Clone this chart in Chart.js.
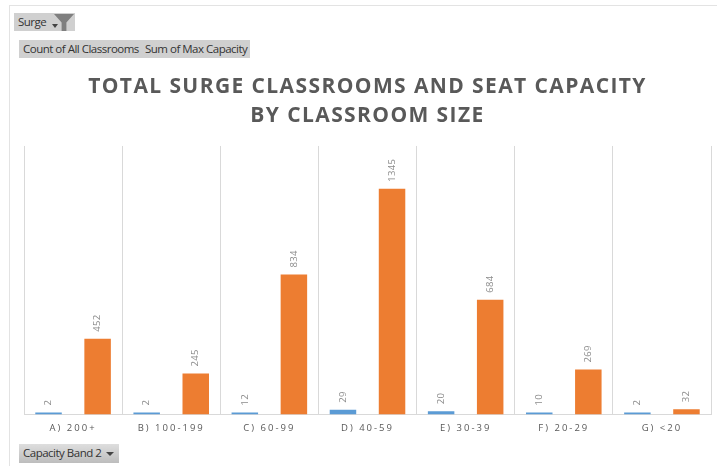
<!DOCTYPE html>
<html><head><meta charset="utf-8">
<script src="https://cdn.jsdelivr.net/npm/chart.js@4"></script>
<style>
html,body{margin:0;padding:0;background:#fff;width:717px;height:466px;overflow:hidden}
#wrap{position:relative;width:717px;height:466px}
canvas{position:absolute;left:0;top:0}
.frame{position:absolute;background:#e3e3e3}
.pill{position:absolute;background:#d0d0d0;font:11.5px/18px "Open Sans",sans-serif;color:#333;letter-spacing:-.5px;white-space:nowrap;box-sizing:border-box;padding-left:4px}
.arrow{position:absolute;width:0;height:0;border-left:4px solid transparent;border-right:4px solid transparent;border-top:4px solid #444}
.funnel{position:absolute;left:54px;top:14px;width:20px;height:17px;background:#7f7f7f;clip-path:polygon(0 0,100% 0,62% 50%,62% 100%,38% 100%,38% 50%)}
</style></head><body>
<div id="wrap">
<canvas id="c" width="717" height="466"></canvas>
<div class="frame" style="left:9px;top:5px;width:708px;height:1px"></div>
<div class="frame" style="left:9px;top:5px;width:1px;height:461px"></div>
<div class="pill" style="left:14px;top:13px;width:61px;height:18px">Surge</div>
<div class="arrow" style="left:52px;top:24px;border-left-width:3px;border-right-width:3px"></div>
<div class="funnel"></div>
<div class="pill" style="left:19px;top:40px;width:122px;height:18px">Count of All Classrooms</div>
<div class="pill" style="left:141px;top:40px;width:109px;height:18px">Sum of Max Capacity</div>
<div class="pill" style="left:19px;top:444px;width:100px;height:19px;background:linear-gradient(#dedede,#bdbdbd)">Capacity Band 2</div>
<div class="arrow" style="left:106px;top:452px"></div>
</div>
<script>
const categories = ["A) 200+","B) 100-199","C) 60-99","D) 40-59","E) 30-39","F) 20-29","G) <20"];
const classroomCounts = [2,2,12,29,20,10,2];
const maxCapacities = [452,245,834,1345,684,269,32];
const titleLines = ["TOTAL SURGE CLASSROOMS AND SEAT CAPACITY","BY CLASSROOM SIZE"];
const seriesNames = ["Count of All Classrooms","Sum of Max Capacity"];
const seriesColors = ["#5b9bd5","#ed7d31"];

const rotatedLabels = {
  id:'rotatedLabels',
  beforeDraw(chart){ chart.ctx.letterSpacing='1.4px'; },
  afterDatasetsDraw(chart){
    const ctx=chart.ctx;
    ctx.save();
    ctx.letterSpacing='0.3px';
    ctx.font='9.5px "Open Sans",sans-serif';
    ctx.fillStyle='#8c8c8c';
    ctx.textAlign='left';
    ctx.textBaseline='middle';
    chart.data.datasets.forEach((ds,i)=>{
      chart.getDatasetMeta(i).data.forEach((bar,j)=>{
        ctx.save();
        ctx.translate(bar.x,bar.y-7);
        ctx.rotate(-Math.PI/2);
        ctx.fillText(String(ds.data[j]),0,0);
        ctx.restore();
      });
    });
    ctx.restore();
    ctx.letterSpacing='2px';
  },
  afterDraw(chart){ chart.ctx.letterSpacing='0px'; }
};
new Chart(document.getElementById('c'),{
  type:'bar',
  data:{labels:categories,datasets:[
    {label:seriesNames[0],data:classroomCounts,backgroundColor:seriesColors[0],minBarLength:2},
    {label:seriesNames[1],data:maxCapacities,backgroundColor:seriesColors[1],minBarLength:2}
  ]},
  options:{
    responsive:false,animation:false,
    layout:{padding:{left:24,right:6,top:73,bottom:24}},
    plugins:{
      legend:{display:false},tooltip:{enabled:false},
      title:{display:true,text:titleLines,color:'#595959',
        font:{family:'"Open Sans",sans-serif',size:21,weight:'bold',lineHeight:1.38},
        padding:{top:0,bottom:15}}
    },
    scales:{
      x:{offset:true,
        grid:{color:'#d9d9d9',drawTicks:false},
        border:{color:'#d9d9d9'},
        ticks:{z:1,color:'#595959',padding:8,maxRotation:0,font:{family:'"Open Sans",sans-serif',size:9.5}}},
      y:{display:false,min:0,max:1600}
    },
    datasets:{bar:{categoryPercentage:1.0,barPercentage:.54}}
  },
  plugins:[rotatedLabels]
});
</script>
</body></html>
